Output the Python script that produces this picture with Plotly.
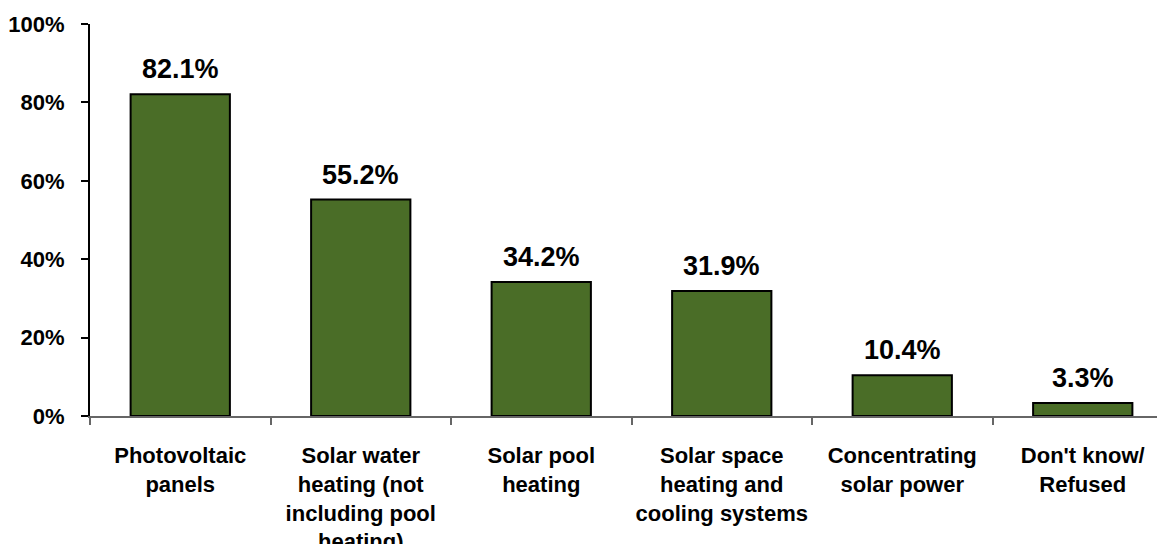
import plotly.graph_objects as go

# Data
categories = [
    "Photovoltaic<br>panels",
    "Solar water<br>heating (not<br>including pool<br>heating)",
    "Solar pool<br>heating",
    "Solar space<br>heating and<br>cooling systems",
    "Concentrating<br>solar power",
    "Don't know/<br>Refused",
]
shares = [82.1, 55.2, 34.2, 31.9, 10.4, 3.3]
y_ticks = [0, 20, 40, 60, 80, 100]
y_tick_labels = ["0%", "20%", "40%", "60%", "80%", "100%"]

FONT = "Liberation Sans, Arial, sans-serif"
GREEN = "#4a6d27"

fig = go.Figure()
fig.add_trace(go.Bar(
    x=categories,
    y=shares,
    width=0.55,
    marker=dict(color=GREEN, line=dict(color="#000000", width=2)),
    hoverinfo="skip",
))

# value labels above each bar
for cat, val in zip(categories, shares):
    fig.add_annotation(
        x=cat, y=val, text=f"{val:.1f}%",
        showarrow=False, yanchor="bottom", yshift=8,
        font=dict(family=FONT, size=27, color="#000000", weight="bold"),
    )

# page body has an 8px margin, so margins are trimmed to compensate
fig.update_layout(
    width=1165, height=544,
    margin=dict(l=82, r=0, t=16, b=136, autoexpand=False),
    paper_bgcolor="white", plot_bgcolor="white",
    showlegend=False,
    font=dict(family=FONT, color="#000000"),
)
fig.update_xaxes(
    range=[-0.5, 5.5],
    showline=True, linecolor="#666666", linewidth=2,
    ticks="outside", tickson="boundaries", ticklen=7, tickwidth=2, tickcolor="#666666",
    tickfont=dict(family=FONT, size=22, weight="bold"),
    tickangle=0,
    ticklabelstandoff=19,
    automargin=False,
    showgrid=False, zeroline=False, fixedrange=True,
)
fig.update_yaxes(
    range=[0, 100],
    tickmode="array", tickvals=y_ticks, ticktext=y_tick_labels,
    showline=True, linecolor="#000000", linewidth=2,
    ticks="outside", ticklen=7, tickwidth=2, tickcolor="#000000",
    tickfont=dict(family=FONT, size=22, weight="bold"),
    ticklabelstandoff=12,
    automargin=False,
    showgrid=False, zeroline=False, fixedrange=True,
)

fig.write_html("out.html")
